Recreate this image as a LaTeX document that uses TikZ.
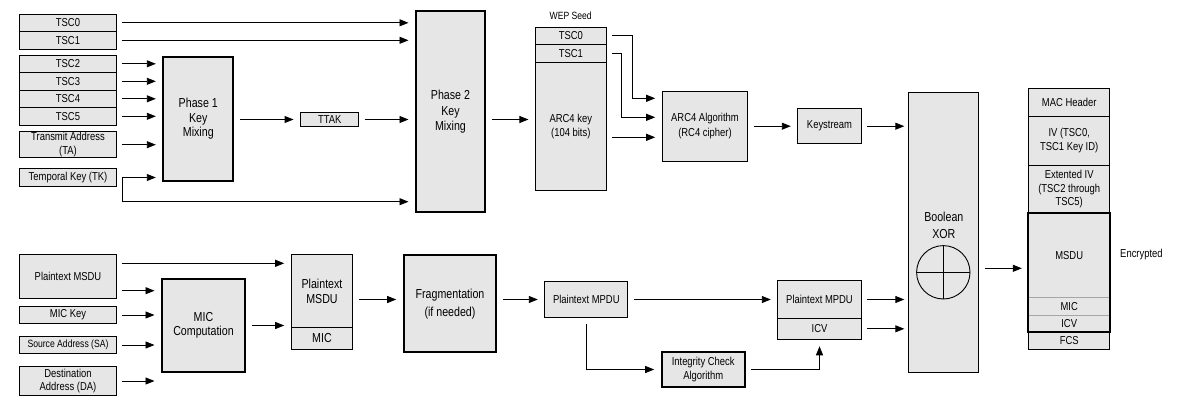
\documentclass[tikz,border=0pt]{standalone}
\usepackage{fontspec}
\setmainfont{Liberation Sans}[FakeStretch=0.82]
\usepackage{tikz}
\usetikzlibrary{arrows.meta}
\definecolor{boxgray}{RGB}{230,230,230}

\begin{document}
\begin{tikzpicture}[x=1pt,y=-1pt,
  field/.style={draw, fill=boxgray, line width=0.9pt, inner sep=0pt, align=center, font=\fontsize{11.5}{13.5}\selectfont},
  block/.style={field, line width=2pt, font=\fontsize{13}{14.5}\selectfont},
  flow/.style={-{Triangle[length=9pt,width=7pt]}, line width=0.9pt, shorten <=5.5pt, shorten >=6.5pt}]
\useasboundingbox (0,0) rectangle (1185,408);

% key mixing
\node[field, minimum width=96.5, minimum height=17.5] (TscZero) at (68,22.8) {TSC0};
\node[field, minimum width=96.5, minimum height=17.5] (TscOne) at (68,40.3) {TSC1};
\node[field, minimum width=96.5, minimum height=17.5] (TscTwo) at (68,63.8) {TSC2};
\node[field, minimum width=96.5, minimum height=17.5] (TscThree) at (68,81.3) {TSC3};
\node[field, minimum width=96.5, minimum height=17.5] (TscFour) at (68,98.8) {TSC4};
\node[field, minimum width=96.5, minimum height=17.5] (TscFive) at (68,116.3) {TSC5};
\node[field, minimum width=96.5, minimum height=26.4] (TransAddr) at (68,144.7) {Transmit Address\\(TA)};
\node[field, minimum width=96.5, minimum height=17.5] (TempKey) at (68,177.5) {Temporal Key (TK)};
\node[block, minimum width=70, minimum height=124.6] (PhaseOne) at (198.3,119) {Phase 1\\Key\\Mixing};
\node[field, minimum width=58.4, minimum height=14.7] (Ttak) at (329.7,119.5) {TTAK};
\node[block, minimum width=69, minimum height=201.3, font=\fontsize{13}{15.5}\selectfont] (PhaseTwo) at (450.5,111.7) {Phase 2\\Key\\Mixing};
\coordinate (KeyBend) at (122,201.7);

\draw[flow] (TscZero.east) -- (TscZero.east -| PhaseTwo.west);
\draw[flow] (TscOne.east) -- (TscOne.east -| PhaseTwo.west);
\draw[flow] (TscTwo.east) -- (TscTwo.east -| PhaseOne.west);
\draw[flow] (TscThree.east) -- (TscThree.east -| PhaseOne.west);
\draw[flow] (TscFour.east) -- (TscFour.east -| PhaseOne.west);
\draw[flow] (TscFive.east) -- (TscFive.east -| PhaseOne.west);
\draw[flow] (TransAddr.east) -- (TransAddr.east -| PhaseOne.west);
\draw[flow] (TempKey.east) -- (TempKey.east -| PhaseOne.west);
\draw[flow, shorten <=0pt] (KeyBend |- TempKey.east) -- (KeyBend) -- (KeyBend -| PhaseTwo.west);
\draw[flow] (PhaseOne.east |- Ttak) -- (Ttak.west);
\draw[flow] (Ttak.east) -- (Ttak.east -| PhaseTwo.west);

% WEP seed and RC4
\node[font=\fontsize{10.5}{12}\selectfont] (SeedLabel) at (570.7,16) {WEP Seed};
\node[field, minimum width=70.8, minimum height=16.7] (SeedTscZero) at (570.8,35.7) {TSC0};
\node[field, minimum width=70.8, minimum height=18.3] (SeedTscOne) at (570.8,53.2) {TSC1};
\node[field, minimum width=70.8, minimum height=127.5] (ArcKey) at (570.8,126.5) {ARC4 key\\(104 bits)};
\node[field, minimum width=85.7, minimum height=70.1, font=\fontsize{11.5}{15}\selectfont] (ArcAlgo) at (705,126.2) {ARC4 Algorithm\\(RC4 cipher)};
\node[field, minimum width=63.5, minimum height=34.8] (KeyStream) at (829.5,126.2) {Keystream};
\coordinate (SeedBendA) at (632.3,98.3);
\coordinate (SeedBendB) at (621,117.3);

\draw[flow] (PhaseTwo.east |- Ttak) -- (ArcKey.west |- Ttak);
\draw[flow] (SeedTscZero.east) -| (SeedBendA) -- (SeedBendA -| ArcAlgo.west);
\draw[flow] (SeedTscOne.east) -| (SeedBendB) -- (SeedBendB -| ArcAlgo.west);
\draw[flow] (ArcKey.east |- 0,137.3) -- (ArcAlgo.west |- 0,137.3);
\draw[flow] (ArcAlgo.east |- KeyStream) -- (KeyStream.west);

% XOR
\node[field, minimum width=70.1, minimum height=279.5] (XorBox) at (943.8,232.5) {};
\node[font=\fontsize{13}{17}\selectfont, align=center] (XorText) at (943.8,225) {Boolean\\XOR};
\node[draw, circle, line width=0.9pt, minimum size=53.4, inner sep=0pt] (XorSign) at (943.3,272.3) {};
\draw[line width=0.9pt] (XorSign.north) -- (XorSign.south);
\draw[line width=0.9pt] (XorSign.west) -- (XorSign.east);
\draw[flow, shorten >=4pt] (KeyStream.east) -- (KeyStream.east -| XorBox.west);

% MPDU frame
\node[field, minimum width=80.8, minimum height=27.7] (MacHeader) at (1069.2,102.2) {MAC Header};
\node[field, minimum width=80.8, minimum height=49] (IvField) at (1069.2,140.5) {IV (TSC0,\\TSC1 Key ID)};
\node[field, minimum width=80.8, minimum height=48.3] (ExtIv) at (1069.2,189.2) {Extented IV\\(TSC2 through\\TSC5)};
\node[field, draw=gray!70, minimum width=80.8, minimum height=84] (MsduField) at (1069.2,255.3) {MSDU};
\node[field, draw=gray!70, minimum width=80.8, minimum height=17.7] (MicField) at (1069.2,306.2) {MIC};
\node[field, draw=gray!70, minimum width=80.8, minimum height=16.7] (IcvField) at (1069.2,323.3) {ICV};
\node[field, minimum width=80.8, minimum height=17.6] (FcsField) at (1069.2,340.5) {FCS};
\draw[line width=2pt] (MsduField.north west) rectangle (IcvField.south east);
\node[anchor=west, font=\fontsize{11.5}{13.5}\selectfont] (Encrypted) at (1116.7,254.3) {Encrypted};
\draw[flow] (XorBox.east |- 0,268.3) -- (MsduField.west |- 0,268.3);

% MIC and ICV
\node[field, minimum width=96.5, minimum height=44.1] (PlainMsdu) at (68,276.8) {Plaintext MSDU};
\node[field, minimum width=96.5, minimum height=16.6] (MicKey) at (68,315) {MIC Key};
\node[field, minimum width=96.5, minimum height=16.6, font=\fontsize{10.5}{12}\selectfont] (SrcAddr) at (68,345) {Source Address (SA)};
\node[field, minimum width=96.5, minimum height=29.1, font=\fontsize{11.5}{12.7}\selectfont] (DstAddr) at (68,381) {Destination\\Address (DA)};
\node[block, minimum width=83, minimum height=93.6, font=\fontsize{13}{14}\selectfont] (MicComp) at (203.5,325.5) {MIC\\Computation};
\node[field, minimum width=61.7, minimum height=73.4, font=\fontsize{13}{14.7}\selectfont] (MsduBox) at (322,291) {Plaintext\\MSDU};
\node[field, minimum width=61.7, minimum height=21.6, font=\fontsize{13}{14.7}\selectfont] (MicBox) at (322,338.5) {MIC};
\node[block, minimum width=92.6, minimum height=97, font=\fontsize{13}{18}\selectfont] (Frag) at (450,303.8) {Fragmentation\\(if needed)};
\node[field, minimum width=83.1, minimum height=36.7] (PlainMpdu) at (586.3,299.5) {Plaintext MPDU};
\node[block, minimum width=83, minimum height=35.6, font=\fontsize{11.5}{13.3}\selectfont] (IntCheck) at (703.2,369.5) {Integrity Check\\Algorithm};
\node[field, minimum width=83.5, minimum height=37.6] (MpduTwo) at (819.5,299.5) {Plaintext MPDU};
\node[field, minimum width=83.5, minimum height=21] (IcvBox) at (819.5,328.8) {ICV};

\draw[flow] (PlainMsdu.east |- 0,263.3) -- (MsduBox.west |- 0,263.3);
\draw[flow] (PlainMsdu.east |- 0,290.7) -- (MicComp.west |- 0,290.7);
\draw[flow] (MicKey.east) -- (MicKey.east -| MicComp.west);
\draw[flow] (SrcAddr.east) -- (SrcAddr.east -| MicComp.west);
\draw[flow] (DstAddr.east) -- (DstAddr.east -| MicComp.west);
\draw[flow] (MicComp.east) -- (MicComp.east -| MicBox.west);
\draw[flow] (MsduBox.east |- PlainMpdu) -- (Frag.west |- PlainMpdu);
\draw[flow] (Frag.east |- PlainMpdu) -- (PlainMpdu.west);
\draw[flow] (PlainMpdu.east) -- (MpduTwo.west);
\draw[flow] (PlainMpdu.south) |- (IntCheck.west);
\draw[flow] (IntCheck.east) -| (IcvBox.south);
\draw[flow, shorten >=4pt] (MpduTwo.east) -- (MpduTwo.east -| XorBox.west);
\draw[flow, shorten >=4pt] (IcvBox.east) -- (IcvBox.east -| XorBox.west);
\end{tikzpicture}
\end{document}
